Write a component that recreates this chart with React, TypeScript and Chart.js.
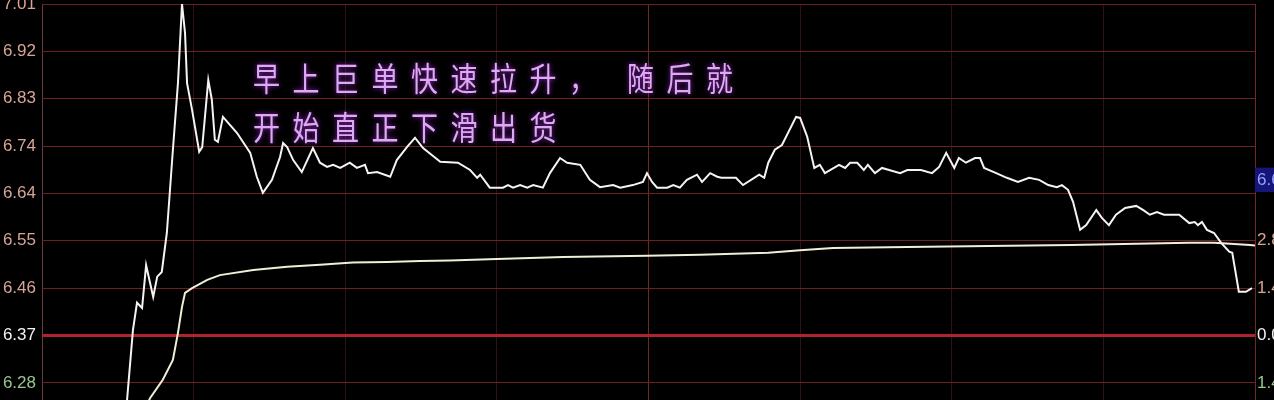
import { useEffect, useRef } from "react";
import { Chart, registerables } from "chart.js";

Chart.register(...registerables);

// ---- data (minutes since open, 0..240) ----
const PRICE_MINUTES = [
  0, 16.6, 18.0, 18.8, 19.8, 20.6, 22.0, 22.8, 23.7, 24.7, 25.9, 26.9, 27.7, 28.3, 28.7, 29.7,
  31.1, 31.7, 32.9, 33.6, 34.2, 34.8, 35.8, 38.6, 41.2, 42.5, 43.7, 45.5, 47.1, 47.7, 48.5,
  49.7, 51.4, 53.6, 55.0, 56.4, 57.6, 59.0, 60.9, 62.3, 63.9, 64.5, 66.3, 68.9, 70.2, 72.2,
  73.8, 75.4, 78.8, 82.3, 84.7, 86.1, 86.7, 88.6, 91.2, 92.2, 93.2, 94.6, 96.0, 97.2, 99.1,
  100.5, 102.5, 103.9, 106.5, 108.4, 110.4, 113.0, 114.4, 116.9, 118.9, 119.7, 120.7, 121.7,
  123.7, 124.9, 126.2, 127.6, 129.6, 130.6, 132.2, 133.6, 134.4, 137.3, 138.7, 141.9, 142.9,
  143.7, 145.0, 146.4, 149.2, 150.0, 151.4, 152.8, 153.9, 154.9, 157.7, 158.9, 159.9, 161.3,
  162.6, 163.4, 164.8, 166.2, 167.6, 169.8, 171.2, 173.9, 176.1, 177.5, 178.9, 180.5, 181.4,
  182.8, 184.6, 185.6, 186.4, 188.8, 190.9, 193.1, 195.3, 197.3, 199.1, 200.8, 201.8, 203.0,
  204.0, 205.4, 206.6, 208.6, 209.7, 211.1, 212.5, 214.3, 216.5, 217.9, 219.2, 220.6, 222.0,
  225.0, 227.0, 228.1, 228.7, 229.5, 230.5, 231.9, 233.3, 234.9, 235.5, 236.3, 236.8, 238.2,
  239.4,
];
const PRICE_VALUES = [
  6.21, 6.22, 6.381, 6.433, 6.423, 6.505, 6.444, 6.483, 6.492, 6.567, 6.727, 6.855, 7.007,
  6.951, 6.855, 6.803, 6.723, 6.732, 6.861, 6.823, 6.746, 6.742, 6.79, 6.759, 6.721, 6.675,
  6.644, 6.669, 6.713, 6.74, 6.732, 6.707, 6.684, 6.73, 6.702, 6.694, 6.698, 6.692, 6.702,
  6.692, 6.698, 6.682, 6.684, 6.675, 6.707, 6.732, 6.75, 6.73, 6.704, 6.702, 6.688, 6.673,
  6.679, 6.654, 6.654, 6.659, 6.654, 6.659, 6.654, 6.659, 6.654, 6.682, 6.711, 6.702, 6.698,
  6.669, 6.655, 6.659, 6.654, 6.659, 6.665, 6.682, 6.665, 6.654, 6.654, 6.659, 6.654, 6.669,
  6.679, 6.665, 6.682, 6.675, 6.673, 6.673, 6.659, 6.679, 6.673, 6.702, 6.727, 6.736, 6.79,
  6.788, 6.752, 6.692, 6.698, 6.682, 6.698, 6.692, 6.702, 6.702, 6.688, 6.698, 6.682, 6.692,
  6.688, 6.682, 6.688, 6.688, 6.682, 6.694, 6.721, 6.692, 6.711, 6.702, 6.711, 6.711, 6.692,
  6.682, 6.673, 6.665, 6.673, 6.669, 6.659, 6.655, 6.659, 6.65, 6.627, 6.573, 6.582, 6.611,
  6.596, 6.582, 6.602, 6.615, 6.619, 6.611, 6.602, 6.607, 6.602, 6.602, 6.586, 6.588, 6.582,
  6.588, 6.573, 6.567, 6.548, 6.531, 6.529, 6.483, 6.454, 6.454, 6.461,
];
const AVG_MINUTES = [
  0, 20.0, 21.4, 23.9, 25.9, 26.9, 27.7, 28.3, 29.7, 32.7, 35.2, 41.8, 48.5, 55.0, 61.5, 68.3,
  74.8, 80.7, 90.0, 103.1, 119.7, 130.2, 143.7, 150.0, 156.5, 171.2, 203.6, 227.0, 231.9,
  239.0, 240,
];
const AVG_VALUES = [
  6.21, 6.22, 6.25, 6.285, 6.323, 6.375, 6.425, 6.452, 6.461, 6.477, 6.486, 6.496, 6.502,
  6.506, 6.51, 6.511, 6.513, 6.514, 6.517, 6.521, 6.523, 6.525, 6.529, 6.534, 6.538, 6.54,
  6.544, 6.548, 6.548, 6.544, 6.543,
];
const LEFT_TICK_VALUES = [6.279, 6.37, 6.461, 6.552, 6.643, 6.734, 6.825, 6.916, 7.007];
const LEFT_TICK_LABELS = ["6.28", "6.37", "6.46", "6.55", "6.64", "6.74", "6.83", "6.92", "7.01"];
const RIGHT_TICK_VALUES = [6.279, 6.37, 6.461, 6.552, 6.669];
const RIGHT_TICK_LABELS = ["1.43%", "0.00%", "1.43%", "2.86%", "6.67"];
const TIME_TICKS = [0, 30, 60, 90, 120, 150, 180, 210, 240];
const NOTE_LINES = ["早上巨单快速拉升， 随后就", "开始直正下滑出货"];
const Y_MIN = 6.246;
const Y_MAX = 7.007;
const PREV_CLOSE_INDEX = 1;

const zeroPad = (s: any) => {
  s.paddingTop = 0;
  s.paddingBottom = 0;
  s.paddingLeft = 0;
  s.paddingRight = 0;
};

export default function App() {
  const ref = useRef<HTMLCanvasElement>(null);

  useEffect(() => {
    if (!ref.current) return;

    const notePlugin = {
      id: "note",
      beforeDatasetsDraw(chart: any) {
        const ctx = chart.ctx as CanvasRenderingContext2D;
        const ys = [79, 128];
        ctx.save();
        ctx.font = "27px 'Noto Sans CJK SC'";
        (ctx as any).letterSpacing = "12.5px";
        ctx.fillStyle = "#dcaaf0";
        ctx.shadowColor = "rgba(150,40,200,1)";
        ctx.shadowBlur = 5;
        ctx.textBaseline = "middle";
        ctx.textAlign = "left";
        NOTE_LINES.forEach((t, i) => {
          ctx.save();
          ctx.translate(253, ys[i]);
          ctx.scale(1, 1.2);
          ctx.fillText(t, 0, 0);
          ctx.restore();
        });
        ctx.restore();
      },
    };

    const chart = new Chart(ref.current, {
      type: "line",
      data: {
        datasets: [
          {
            label: "价格",
            data: PRICE_MINUTES.map((m, i) => ({ x: m, y: PRICE_VALUES[i] })),
            borderColor: "#f4f4f4",
            borderWidth: 2,
            pointRadius: 0,
            tension: 0,
            yAxisID: "y",
          },
          {
            label: "均价",
            data: AVG_MINUTES.map((m, i) => ({ x: m, y: AVG_VALUES[i] })),
            borderColor: "#f0eed6",
            borderWidth: 2,
            pointRadius: 0,
            tension: 0,
            yAxisID: "y",
          },
        ],
      },
      options: {
        animation: false,
        responsive: false,
        maintainAspectRatio: false,
        events: [],
        layout: { padding: { top: 4, bottom: 0, left: 0, right: 0 }, autoPadding: false },
        plugins: { legend: { display: false }, tooltip: { enabled: false } },
        scales: {
          x: {
            type: "linear",
            min: 0,
            max: 240,
            position: "bottom",
            border: { display: false },
            grid: {
              drawTicks: false,
              lineWidth: 1,
              color: (c: any) => {
                if (c.index === 0) return "rgb(105,62,62)";
                if (c.index === 4) return "rgb(110,42,32)";
                if (c.index === TIME_TICKS.length - 1) return "rgb(110,40,40)";
                return "rgb(48,18,18)";
              },
            },
            ticks: { display: false },
            afterBuildTicks: (s: any) => {
              s.ticks = TIME_TICKS.map((v) => ({ value: v }));
            },
            afterFit: (s: any) => {
              s.height = 0;
              zeroPad(s);
            },
          },
          y: {
            type: "linear",
            position: "left",
            min: Y_MIN,
            max: Y_MAX,
            border: { display: false },
            grid: {
              drawTicks: false,
              color: (c: any) => (c.index === PREV_CLOSE_INDEX ? "rgb(175,35,45)" : "rgb(110,32,32)"),
              lineWidth: (c: any) => (c.index === PREV_CLOSE_INDEX ? 3 : 1),
            },
            ticks: {
              autoSkip: false,
              padding: 6,
              font: { family: "'Liberation Sans', Arial, sans-serif", size: 17 },
              color: (c: any) =>
                c.index === 0 ? "rgb(150,200,140)" : c.index === PREV_CLOSE_INDEX ? "#f2f2f2" : "rgb(215,165,150)",
              callback: (_v: any, i: number) => LEFT_TICK_LABELS[i],
            },
            afterBuildTicks: (s: any) => {
              s.ticks = LEFT_TICK_VALUES.map((v) => ({ value: v }));
            },
            afterFit: (s: any) => {
              s.width = 42;
              zeroPad(s);
            },
          },
          y2: {
            type: "linear",
            position: "right",
            min: Y_MIN,
            max: Y_MAX,
            border: { display: false },
            grid: { display: false, drawTicks: false },
            ticks: {
              autoSkip: false,
              padding: 2,
              font: { family: "'Liberation Sans', Arial, sans-serif", size: 17 },
              color: (c: any) =>
                c.index === 0
                  ? "rgb(150,200,140)"
                  : c.index === 1
                  ? "#f2f2f2"
                  : c.index === 4
                  ? "rgb(150,160,255)"
                  : "rgb(215,165,150)",
              showLabelBackdrop: (c: any) => c.index === 4,
              backdropColor: "#16167a",
              backdropPadding: 2,
              callback: (_v: any, i: number) => RIGHT_TICK_LABELS[i],
            },
            afterBuildTicks: (s: any) => {
              s.ticks = RIGHT_TICK_VALUES.map((v) => ({ value: v }));
            },
            afterFit: (s: any) => {
              s.width = 19;
              zeroPad(s);
            },
          },
        },
      } as any,
      plugins: [notePlugin],
    });

    return () => chart.destroy();
  }, []);

  return (
    <div
      style={{
        position: "fixed",
        left: 0,
        top: 0,
        width: "1274px",
        height: "400px",
        background: "#000",
        overflow: "hidden",
      }}
    >
      <canvas ref={ref} width={1274} height={400} style={{ display: "block" }} />
    </div>
  );
}
